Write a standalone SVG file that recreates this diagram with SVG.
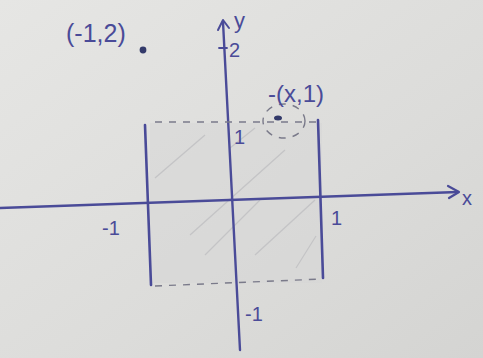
<svg xmlns="http://www.w3.org/2000/svg" width="483" height="358" viewBox="0 0 483 358">
<defs>
<linearGradient id="paper" x1="0" y1="0" x2="1" y2="1">
<stop offset="0" stop-color="#e6e6e4"/>
<stop offset="0.6" stop-color="#dcdcda"/>
<stop offset="1" stop-color="#d4d4d2"/>
</linearGradient>
<style>
.ink{stroke:#4a4b98;fill:none;stroke-linecap:round;stroke-linejoin:round}
.dash{stroke:#7a7a8a;fill:none;stroke-width:1.4;stroke-dasharray:7 7}
.hatch{stroke:#c4c4c6;stroke-width:1.3;fill:none}
.lbl{font-family:"Liberation Sans",Arial,sans-serif;fill:#4a4b98}
</style>
</defs>
<rect width="483" height="358" fill="url(#paper)"/>
<rect x="150" y="123" width="172" height="160" fill="#d6d6d5" opacity="0.5"/>
<g id="hatching">
<path class="hatch" d="M155 178 L205 135"/>
<path class="hatch" d="M190 235 L285 150"/>
<path class="hatch" d="M205 255 L260 200"/>
<path class="hatch" d="M255 255 L315 200"/>
<path class="hatch" d="M296 268 L316 236"/>
<path class="hatch" d="M230 148 L255 128"/>
</g>
<g id="axes">
<path class="ink" stroke-width="2.4" d="M0 208 L458 192"/>
<path class="ink" stroke-width="2.2" d="M448 186 L459 192 L449 198"/>
<path class="ink" stroke-width="2.4" d="M240 350 L223 22"/>
<path class="ink" stroke-width="2" d="M218 30 L223 20 L229 28"/>
<path class="ink" stroke-width="1.8" d="M219 48 L227 48"/>
</g>
<g id="box">
<path class="ink" stroke-width="2.6" d="M145 125 L151 285"/>
<path class="ink" stroke-width="2.6" d="M318 120 L323 278"/>
<path class="dash" d="M155 122 L318 122"/>
<path class="dash" d="M155 286 L322 279"/>
</g>
<g id="point-x1">
<ellipse cx="284" cy="121" rx="21" ry="17" class="dash"/>
<ellipse cx="278" cy="118" rx="4" ry="2.5" fill="#333a6a"/>
<text class="lbl" x="268" y="102" font-size="24">-(x,1)</text>
</g>
<g id="point-m12">
<circle cx="143" cy="50" r="3.4" fill="#333a6a"/>
<text class="lbl" x="66" y="42" font-size="25">(-1,2)</text>
</g>
<g id="labels">
<text class="lbl" x="234" y="28" font-size="22">y</text>
<text class="lbl" x="229" y="57" font-size="20">2</text>
<text class="lbl" x="234" y="144" font-size="20">1</text>
<text class="lbl" x="102" y="235" font-size="20">-1</text>
<text class="lbl" x="331" y="225" font-size="20">1</text>
<text class="lbl" x="245" y="321" font-size="20">-1</text>
<text class="lbl" x="462" y="205" font-size="20">x</text>
</g>
</svg>
